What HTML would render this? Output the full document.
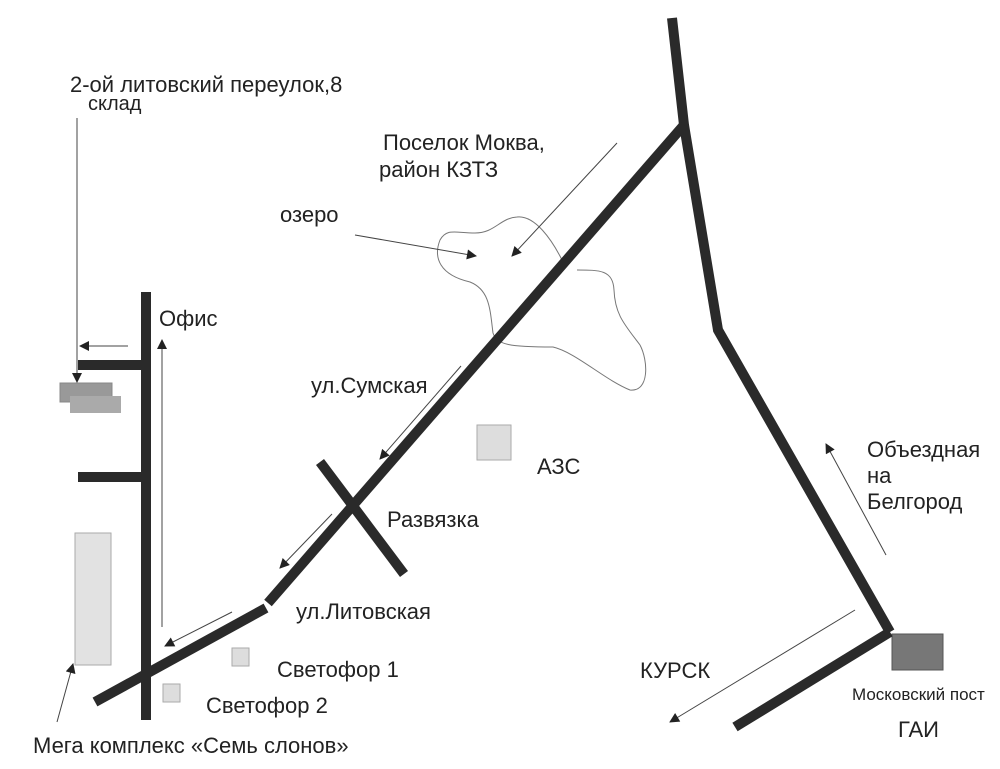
<!DOCTYPE html>
<html><head><meta charset="utf-8"><style>
html,body{margin:0;padding:0;background:#fff}
svg{display:block}
text{font-family:"Liberation Sans",sans-serif;fill:#222}
</style></head><body>
<svg width="1000" height="769" viewBox="0 0 1000 769" xmlns="http://www.w3.org/2000/svg">
<defs>
<marker id="a" viewBox="0 0 10 10" refX="9" refY="5" markerWidth="14" markerHeight="10" markerUnits="userSpaceOnUse" orient="auto">
<path d="M0,0 L10,5 L0,10 z" fill="#222"/></marker>
</defs>
<rect width="1000" height="769" fill="#fff"/>
<!-- lake -->
<path d="M562 260 C552 240 535 215 517 217 C500 218 495 233 475 233 C455 233 447 228 440 240 C433 258 440 275 470 282 C490 290 490 310 493 333 C497 345 510 347 553 347 C575 352 605 380 630 390 C650 392 648 360 640 345 C625 325 615 315 614 290 C613 270 600 270 577 270" fill="none" stroke="#777" stroke-width="1"/>
<!-- boxes -->
<rect x="60" y="383" width="52" height="19" fill="#999" stroke="#888"/>
<rect x="70" y="396" width="51" height="17" fill="#aaa"/>
<rect x="75" y="533" width="36" height="132" fill="#e2e2e2" stroke="#aaa"/>
<rect x="477" y="425" width="34" height="35" fill="#ddd" stroke="#aaa"/>
<rect x="232" y="648" width="17" height="18" fill="#ddd" stroke="#aaa"/>
<rect x="163" y="684" width="17" height="18" fill="#ddd" stroke="#aaa"/>
<rect x="892" y="634" width="51" height="36" fill="#777" stroke="#555"/>
<!-- roads -->
<g stroke="#2a2a2a" stroke-width="10" fill="none" stroke-linecap="butt">
<polyline points="672,18 684,125 718,330 890,632"/>
<line x1="684" y1="125" x2="268" y2="603"/>
<line x1="266" y1="608" x2="95" y2="702"/>
<line x1="320" y1="462" x2="404" y2="574"/>
<line x1="890" y1="632" x2="735" y2="727"/>
<line x1="146" y1="292" x2="146" y2="720"/>
<line x1="78" y1="365" x2="146" y2="365"/>
<line x1="78" y1="477" x2="146" y2="477"/>
</g>
<!-- arrows -->
<g stroke="#444" stroke-width="1" fill="none" marker-end="url(#a)">
<line x1="355" y1="235" x2="476" y2="256"/>
<line x1="617" y1="143" x2="512" y2="256"/>
<line x1="461" y1="366" x2="380" y2="459"/>
<line x1="332" y1="514" x2="280" y2="568"/>
<line x1="232" y1="612" x2="165" y2="646"/>
<line x1="162" y1="627" x2="162" y2="340"/>
<line x1="128" y1="346" x2="80" y2="346"/>
<line x1="77" y1="118" x2="77" y2="382"/>
<line x1="57" y1="722" x2="73" y2="664"/>
<line x1="855" y1="610" x2="670" y2="722"/>
<line x1="886" y1="555" x2="826" y2="444"/>
</g>
<!-- text -->
<g font-size="22">
<text x="70" y="92">2-ой литовский переулок,8</text>
<text x="88" y="110" font-size="20">склад</text>
<text x="383" y="150">Поселок Моква,</text>
<text x="379" y="177">район КЗТЗ</text>
<text x="280" y="222">озеро</text>
<text x="159" y="326">Офис</text>
<text x="311" y="393">ул.Сумская</text>
<text x="537" y="474">АЗС</text>
<text x="387" y="527">Развязка</text>
<text x="296" y="619">ул.Литовская</text>
<text x="277" y="677">Светофор 1</text>
<text x="206" y="713">Светофор 2</text>
<text x="33" y="753">Мега комплекс «Семь слонов»</text>
<text x="640" y="678">КУРСК</text>
<text x="867" y="457">Объездная</text>
<text x="867" y="483">на</text>
<text x="867" y="509">Белгород</text>
<text x="898" y="737">ГАИ</text>
<text x="852" y="700" font-size="17">Московский пост</text>
</g>
</svg>
</body></html>
